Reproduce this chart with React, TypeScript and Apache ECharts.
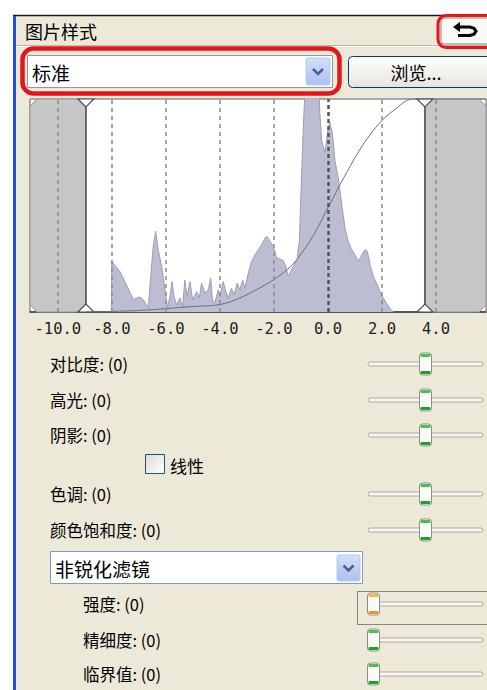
import React, { useEffect, useRef } from "react";
import * as echarts from "echarts";

// ---- data ----
const tickValues = [-10, -8, -6, -4, -2, 0, 2, 4];
const axisMin = -11.03;
const axisMax = 5.85;

const histX = [
  -8.02, -8.0, -7.7, -7.46, -7.2, -7.09, -6.96, -6.84, -6.65, -6.6, -6.47, -6.38, -6.28, -6.16, -6.04,
  -5.94, -5.85, -5.77, -5.7, -5.6, -5.48, -5.38, -5.3, -5.21, -5.11, -5.01, -4.86, -4.76, -4.68, -4.56,
  -4.43, -4.34, -4.28, -4.19, -4.06, -4.0, -3.88, -3.78, -3.69, -3.57, -3.48, -3.36, -3.26, -3.16, -3.07,
  -2.95, -2.83, -2.7, -2.58, -2.46, -2.33, -2.25, -2.15, -2.02, -1.9, -1.78, -1.65, -1.56, -1.47, -1.28,
  -1.14, -1.1, -1.06, -1.01, -0.91, -0.81, -0.36, -0.3, -0.23, -0.11, 0.01, 0.07, 0.17, 0.26, 0.38,
  0.51, 0.63, 0.75, 0.88, 1.0, 1.12, 1.25, 1.37, 1.46, 1.56, 1.68, 1.8, 1.93, 2.05, 2.17, 2.3, 2.42,
];
const histY = [
  0, 23.7, 19, 12.7, 5.7, 6.6, 7, 5.7, 2, 10.4, 30.8, 37.9, 29, 21.4, 11.3,
  2, 7.2, 14.3, 7.2, 3.3, 6.6, 2.5, 15, 7.2, 14.3, 5.7, 9.6, 6.6, 13.6, 8.9,
  10.4, 16, 6, 4.2, 10.4, 7.2, 14.3, 9.6, 6.5, 11.2, 8, 13.5, 10.4, 15, 11.3,
  18.2, 23.7, 26.9, 29.2, 31.6, 34.7, 35.5, 33.2, 30.8, 25.3, 25, 24, 21.4, 16.7, 21.6,
  24.5, 30, 32.5, 52, 87.4, 115, 115, 93, 80.3, 74.8, 86.6, 89, 83.5, 70.9, 63,
  50.5, 39.5, 33.2, 29.2, 26.9, 23.7, 26.9, 29.2, 28.4, 22.2, 16.7, 13.5, 9.6, 6.5, 4.1, 1.7, 0,
];

const curveX = [-8.96, -7, -6, -5, -4, -3.15, -2.03, -1.5, -1.16, -0.54, 0, 0.69, 1.31, 1.93, 2.42, 3.15, 5.85];
const curveY = [0, 0.7, 1.6, 2.6, 3.5, 7.2, 15, 20, 24.5, 36, 49, 65.5, 78.8, 89, 94.5, 100, 100];

// clipping ranges: [from, to, handleOnRightEdge]
const clipRanges = [
  [-11.03, -8.96, 1],
  [3.59, 5.85, 0],
];

const toneLabels = ["对比度: (0)", "高光: (0)", "阴影: (0)", "色调: (0)", "颜色饱和度: (0)"];
const toneRowsY = [364, 400, 435, 494, 530];
const sharpLabels = ["强度: (0)", "精细度: (0)", "临界值: (0)"];
const sharpRowsY = [604, 640, 674];

const CJK = '"Noto Sans CJK SC", "Noto Sans", sans-serif';

function slider(y: number, cx: number, orange: boolean) {
  const capTop = orange ? "#F7B547" : "#4CC04C";
  const capBot = orange ? "#E59A22" : "#1FA41F";
  return [
    {
      type: "rect",
      shape: { x: 368, y: y - 2, width: 115, height: 4, r: 2 },
      style: { fill: "#F7F6F1", stroke: "#ADAA9E", lineWidth: 1 },
    },
    {
      type: "rect",
      shape: { x: cx - 6, y: y - 11, width: 12, height: 22, r: 3 },
      style: { fill: "#FAFAF6", stroke: "#8E8F8F", lineWidth: 1 },
    },
    {
      type: "rect",
      shape: { x: cx - 5, y: y - 10, width: 10, height: 3, r: 1 },
      style: { fill: capTop },
    },
    {
      type: "rect",
      shape: { x: cx - 5, y: y + 7, width: 10, height: 3, r: 1 },
      style: { fill: capBot },
    },
  ];
}

function label(text: string, x: number, y: number, size = 16.5) {
  return {
    type: "text",
    x,
    y,
    style: { text, font: `${size}px ${CJK}`, fill: "#000", verticalAlign: "middle", align: "left" },
  };
}

function comboArrow(x: number, y: number, w: number, h: number) {
  const cx = x + w / 2;
  const cy = y + h / 2;
  return [
    {
      type: "rect",
      shape: { x, y, width: w, height: h, r: 2 },
      style: {
        fill: new echarts.graphic.LinearGradient(0, 0, 0, 1, [
          { offset: 0, color: "#D2DEFB" },
          { offset: 1, color: "#ABC1F2" },
        ]),
        stroke: "#B7C9F1",
        lineWidth: 1,
      },
    },
    {
      type: "polyline",
      shape: { points: [[cx - 5, cy - 2.5], [cx, cy + 2.5], [cx + 5, cy - 2.5]] },
      style: { stroke: "#4D6185", lineWidth: 2.5, fill: null },
    },
  ];
}

export default function App() {
  const ref = useRef<HTMLDivElement>(null);

  useEffect(() => {
    if (!ref.current) return;
    const chart = echarts.init(ref.current, undefined, { renderer: "svg" });

    const graphic: any[] = [
      // outer white margins
      { type: "rect", shape: { x: 0, y: 0, width: 487, height: 15 }, style: { fill: "#fff" } },
      { type: "rect", shape: { x: 0, y: 0, width: 13, height: 690 }, style: { fill: "#fff" } },
      // panel left blue border & top line
      { type: "rect", shape: { x: 13, y: 15, width: 3, height: 675 }, style: { fill: "#1E55D8" } },
      { type: "line", shape: { x1: 13, y1: 15.5, x2: 487, y2: 15.5 }, style: { stroke: "#1a1a1a", lineWidth: 1.5 } },
      // title
      label("图片样式", 25, 31, 18),
      { type: "line", shape: { x1: 16, y1: 45.5, x2: 487, y2: 45.5 }, style: { stroke: "#BDBAA8", lineWidth: 1 } },
      { type: "line", shape: { x1: 16, y1: 46.5, x2: 487, y2: 46.5 }, style: { stroke: "#FFFFFF", lineWidth: 1 } },
      // undo button
      {
        type: "rect",
        shape: { x: 441, y: 18, width: 55, height: 26, r: 3 },
        style: { fill: "#F8F8F4", stroke: "#8A8A85", lineWidth: 1 },
      },
      { type: "polygon", shape: { points: [[453, 27], [460, 22], [460, 32]] }, style: { fill: "#000" } },
      {
        type: "polyline",
        shape: { points: [[459, 27], [470, 27], [474, 28.3], [476, 31.2], [474, 34.2], [470, 35.5], [458, 35.5]] },
        style: { stroke: "#000", lineWidth: 3, fill: null },
      },
      {
        type: "rect",
        z: 10,
        shape: { x: 438, y: 15.5, width: 60, height: 32, r: 8 },
        style: { fill: null, stroke: "#E8141B", lineWidth: 3 },
      },
      // style combo box
      {
        type: "rect",
        shape: { x: 27.5, y: 55.5, width: 305, height: 32 },
        style: { fill: "#fff", stroke: "#7F9DB9", lineWidth: 1 },
      },
      label("标准", 32, 72, 19),
      ...comboArrow(306, 58, 24, 27),
      {
        type: "rect",
        z: 10,
        shape: { x: 22.5, y: 48.5, width: 317, height: 45, r: 11 },
        style: { fill: null, stroke: "#E8141B", lineWidth: 4.5 },
      },
      // browse button
      {
        type: "rect",
        shape: { x: 348.5, y: 56.5, width: 145, height: 31, r: 4 },
        style: {
          fill: new echarts.graphic.LinearGradient(0, 0, 0, 1, [
            { offset: 0, color: "#FFFFFF" },
            { offset: 1, color: "#E6E4DA" },
          ]),
          stroke: "#003C74",
          lineWidth: 1,
        },
      },
      {
        type: "text",
        x: 416,
        y: 72,
        style: { text: "浏览...", font: `18px ${CJK}`, fill: "#000", align: "center", verticalAlign: "middle" },
      },
    ];

    toneLabels.forEach((t, i) => {
      graphic.push(label(t, 50, toneRowsY[i]));
      graphic.push(...slider(toneRowsY[i], 425.5, false));
    });

    // checkbox
    graphic.push({
      type: "rect",
      shape: { x: 145.5, y: 454.5, width: 19, height: 19 },
      style: {
        fill: new echarts.graphic.LinearGradient(0, 0, 1, 1, [
          { offset: 0, color: "#DCDBD3" },
          { offset: 1, color: "#FFFFFF" },
        ]),
        stroke: "#1C5180",
        lineWidth: 1,
      },
    });
    graphic.push(label("线性", 170, 465, 17));

    // sharpen combo
    graphic.push({
      type: "rect",
      shape: { x: 50.5, y: 551.5, width: 312, height: 32 },
      style: { fill: "#fff", stroke: "#7F9DB9", lineWidth: 1 },
    });
    graphic.push(label("非锐化滤镜", 55, 568, 19));
    graphic.push(...comboArrow(337, 555, 23, 26));

    sharpLabels.forEach((t, i) => {
      graphic.push(label(t, 83, sharpRowsY[i]));
      graphic.push(...slider(sharpRowsY[i], 373.5, i === 0));
    });
    // focus rectangle
    graphic.push({
      type: "rect",
      shape: { x: 357.5, y: 591.5, width: 135, height: 33 },
      style: { fill: null, stroke: "#222", lineWidth: 1, lineDash: [1, 1] },
    });

    const option: any = {
      animation: false,
      backgroundColor: "#ECE9D8",
      grid: {
        left: 30,
        top: 99,
        width: 456,
        height: 213,
        show: true,
        backgroundColor: "#FFFFFF",
        borderColor: "#5E5E6E",
        borderWidth: 1,
      },
      xAxis: {
        type: "value",
        min: axisMin,
        max: axisMax,
        axisLine: { show: true, lineStyle: { color: "#3a3a48", width: 1.5 } },
        axisTick: { show: false },
        splitLine: { show: false },
        axisLabel: {
          customValues: tickValues,
          formatter: (v: number) => v.toFixed(1),
          fontFamily: '"DejaVu Sans Mono", monospace',
          fontSize: 15.5,
          color: "#222",
          margin: 9,
        },
      },
      yAxis: {
        type: "value",
        min: 0,
        max: 100,
        show: false,
      },
      series: [
        {
          type: "custom",
          z: 1,
          silent: true,
          encode: { x: [0, 1] },
          data: clipRanges,
          renderItem: (params: any, api: any) => {
            const cs = params.coordSys;
            const x0 = api.coord([api.value(0), 0])[0];
            const x1 = api.coord([api.value(1), 0])[0];
            const top = cs.y;
            const bot = cs.y + cs.height;
            const c = 7;
            const hx = api.value(2) === 1 ? x1 : x0;
            const n = 8;
            const stroke = "#4B4B5C";
            return {
              type: "group",
              children: [
                {
                  type: "polygon",
                  shape: {
                    points: [
                      [x0, top + c], [x0 + c, top], [x1 - c, top], [x1, top + c],
                      [x1, bot - c], [x1 - c, bot], [x0 + c, bot], [x0, bot - c],
                    ],
                  },
                  style: { fill: "#C6C6C6", stroke: "#9A9A9A", lineWidth: 1 },
                },
                {
                  type: "line",
                  shape: { x1: hx, y1: top + n, x2: hx, y2: bot - n },
                  style: { stroke, lineWidth: 1.5 },
                },
                {
                  type: "polygon",
                  shape: { points: [[hx - n, top], [hx, top + n], [hx + n, top]] },
                  style: { fill: "#fff", stroke, lineWidth: 1.2 },
                },
                {
                  type: "polygon",
                  shape: { points: [[hx - n, bot], [hx, bot - n], [hx + n, bot]] },
                  style: { fill: "#fff", stroke, lineWidth: 1.2 },
                },
              ],
            };
          },
        },
        {
          type: "line",
          z: 2,
          silent: true,
          symbol: "none",
          clip: true,
          data: histX.map((x, i) => [x, histY[i]]),
          lineStyle: { color: "#9C9CB6", width: 1 },
          areaStyle: { color: "#BCBCD3", opacity: 1 },
        },
        {
          type: "line",
          z: 3,
          silent: true,
          symbol: "none",
          smooth: 0.35,
          clip: true,
          data: curveX.map((x, i) => [x, curveY[i]]),
          lineStyle: { color: "#6E6E78", width: 1 },
          markLine: {
            silent: true,
            symbol: "none",
            label: { show: false },
            data: tickValues.map((v) => ({
              xAxis: v,
              lineStyle:
                v === 0
                  ? { color: "#555", width: 2.5, type: [4, 3] }
                  : { color: "#8A8A8A", width: 1.5, type: [4, 4] },
            })),
          },
        },
      ],
      graphic,
    };

    chart.setOption(option);
    return () => chart.dispose();
  }, []);

  return (
    <div
      ref={ref}
      style={{ position: "absolute", left: 0, top: 0, width: 487, height: 690 }}
    />
  );
}
